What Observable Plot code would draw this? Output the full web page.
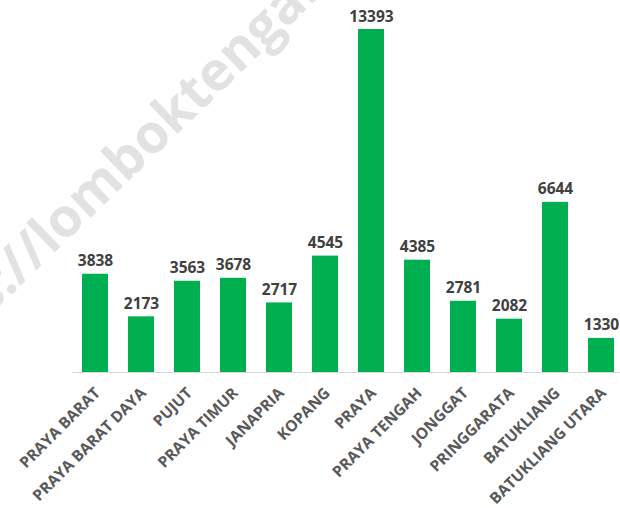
<!DOCTYPE html>
<html><head><meta charset="utf-8">
<script src="https://cdn.jsdelivr.net/npm/d3@7"></script>
<script src="https://cdn.jsdelivr.net/npm/@observablehq/plot@0.6"></script>
<style>
body{margin:0;background:#fff;}
g[aria-label="x-axis tick label"]{font-weight:700;}
</style>
</head><body><div id="chart"></div>
<script>
const kecamatan = ["PRAYA BARAT","PRAYA BARAT DAYA","PUJUT","PRAYA TIMUR","JANAPRIA","KOPANG","PRAYA","PRAYA TENGAH","JONGGAT","PRINGGARATA","BATUKLIANG","BATUKLIANG UTARA"];
const jumlah = [3838,2173,3563,3678,2717,4545,13393,4385,2781,2082,6644,1330];
const watermark = ["https://lomboktengahkab.go.id"];
const data = kecamatan.map((k,i)=>({kecamatan:k, jumlah:jumlah[i]}));
const chart = Plot.plot({
  width:620, height:508, marginLeft:72, marginRight:0, marginTop:0, marginBottom:136,
  style:{fontFamily:"'Open Sans', sans-serif", background:"#fff", overflow:"hidden"},
  x:{domain:kecamatan, range:[61.2,634.7], padding:0.43, label:null},
  y:{domain:[0,13393], range:[372,29], axis:null},
  marks:[
    Plot.text(watermark, {frameAnchor:"top-left", dx:-167, dy:396, rotate:-44, textAnchor:"start", lineAnchor:"bottom", fontSize:54, fontWeight:700, fill:"#e2e2e2"}),
    Plot.barY(data,{x:"kecamatan", y:"jumlah", fill:"#00B050"}),
    Plot.ruleY([0],{stroke:"#d9d9d9", strokeWidth:1.2}),
    Plot.text(data,{x:"kecamatan", y:"jumlah", text:d=>String(d.jumlah), dy:-8, lineAnchor:"bottom", fontWeight:700, fontSize:15.5, fill:"#404040"}),
    Plot.axisX({tickRotate:-45, tickSize:0, tickPadding:18, dx:2, fontSize:15.5, fill:"#595959", label:null})
  ]
});
document.getElementById("chart").appendChild(chart);
</script></body></html>
